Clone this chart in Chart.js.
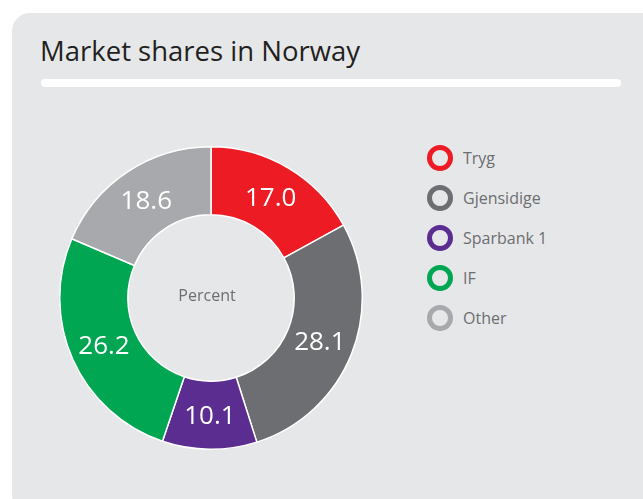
<!DOCTYPE html>
<html>
<head>
<meta charset="utf-8">
<script src="https://cdn.jsdelivr.net/npm/chart.js@4"></script>
<style>
  body { margin: 0; background: #fff; width: 643px; height: 499px; overflow: hidden; position: relative; font-family: "Open Sans", sans-serif; }
  #panel { position: absolute; left: 12px; top: 13px; width: 650px; height: 500px; background: #e6e7e8; border-radius: 18px; }
  #title { position: absolute; left: 40px; top: 37px; font-size: 27.5px; line-height: 27.5px; color: #231f20; white-space: nowrap; }
  #bar { position: absolute; left: 41px; top: 79px; width: 580px; height: 8px; background: #fff; border-radius: 4px; }
  #chartBox { position: absolute; left: 59px; top: 146px; width: 304px; height: 304px; }
  #legend { position: absolute; left: 427px; top: 145px; }
  .item { display: flex; align-items: center; height: 26px; margin-bottom: 14px; }
  .ring { width: 16px; height: 16px; border: 5px solid; border-radius: 50%; margin-right: 10px; }
  .item span { font-size: 16px; color: #6d6e71; }
</style>
</head>
<body>
<div id="panel"></div>
<div id="title">Market shares in Norway</div>
<div id="bar"></div>
<div id="chartBox"><canvas id="pie" width="304" height="304"></canvas></div>
<div id="legend"></div>
<script>
const companies = ["Tryg", "Gjensidige", "Sparbank 1", "IF", "Other"];
const shares = [17.0, 28.1, 10.1, 26.2, 18.6];
const colors = ["#ed1c24", "#6d6e71", "#5c2d91", "#00a651", "#a7a9ac"];
const centerText = "Percent";

// legend
const legend = document.getElementById("legend");
companies.forEach((name, i) => {
  const row = document.createElement("div");
  row.className = "item";
  row.innerHTML = `<div class="ring" style="border-color:${colors[i]}"></div><span>${name}</span>`;
  legend.appendChild(row);
});

// value labels + center text
const labelPlugin = {
  id: "labels",
  afterDatasetsDraw(chart) {
    const ctx = chart.ctx;
    const meta = chart.getDatasetMeta(0);
    ctx.save();
    ctx.textAlign = "center";
    ctx.textBaseline = "middle";
    ctx.fillStyle = "#fff";
    ctx.font = '26px "Open Sans"';
    meta.data.forEach((arc, i) => {
      const p = arc.tooltipPosition();
      ctx.fillText(shares[i].toFixed(1), p.x, p.y + 1);
    });
    const c = meta.data[0];
    ctx.fillStyle = "#6d6e71";
    ctx.font = '16px "Open Sans"';
    ctx.fillText(centerText, c.x - 4, c.y - 2);
    ctx.restore();
  }
};

new Chart(document.getElementById("pie"), {
  type: "doughnut",
  data: {
    labels: companies,
    datasets: [{
      data: shares,
      backgroundColor: colors,
      borderColor: "#ffffff",
      borderWidth: 1.5
    }]
  },
  options: {
    responsive: false,
    animation: false,
    cutout: "55%",
    plugins: { legend: { display: false }, tooltip: { enabled: false } }
  },
  plugins: [labelPlugin]
});
</script>
</body>
</html>
